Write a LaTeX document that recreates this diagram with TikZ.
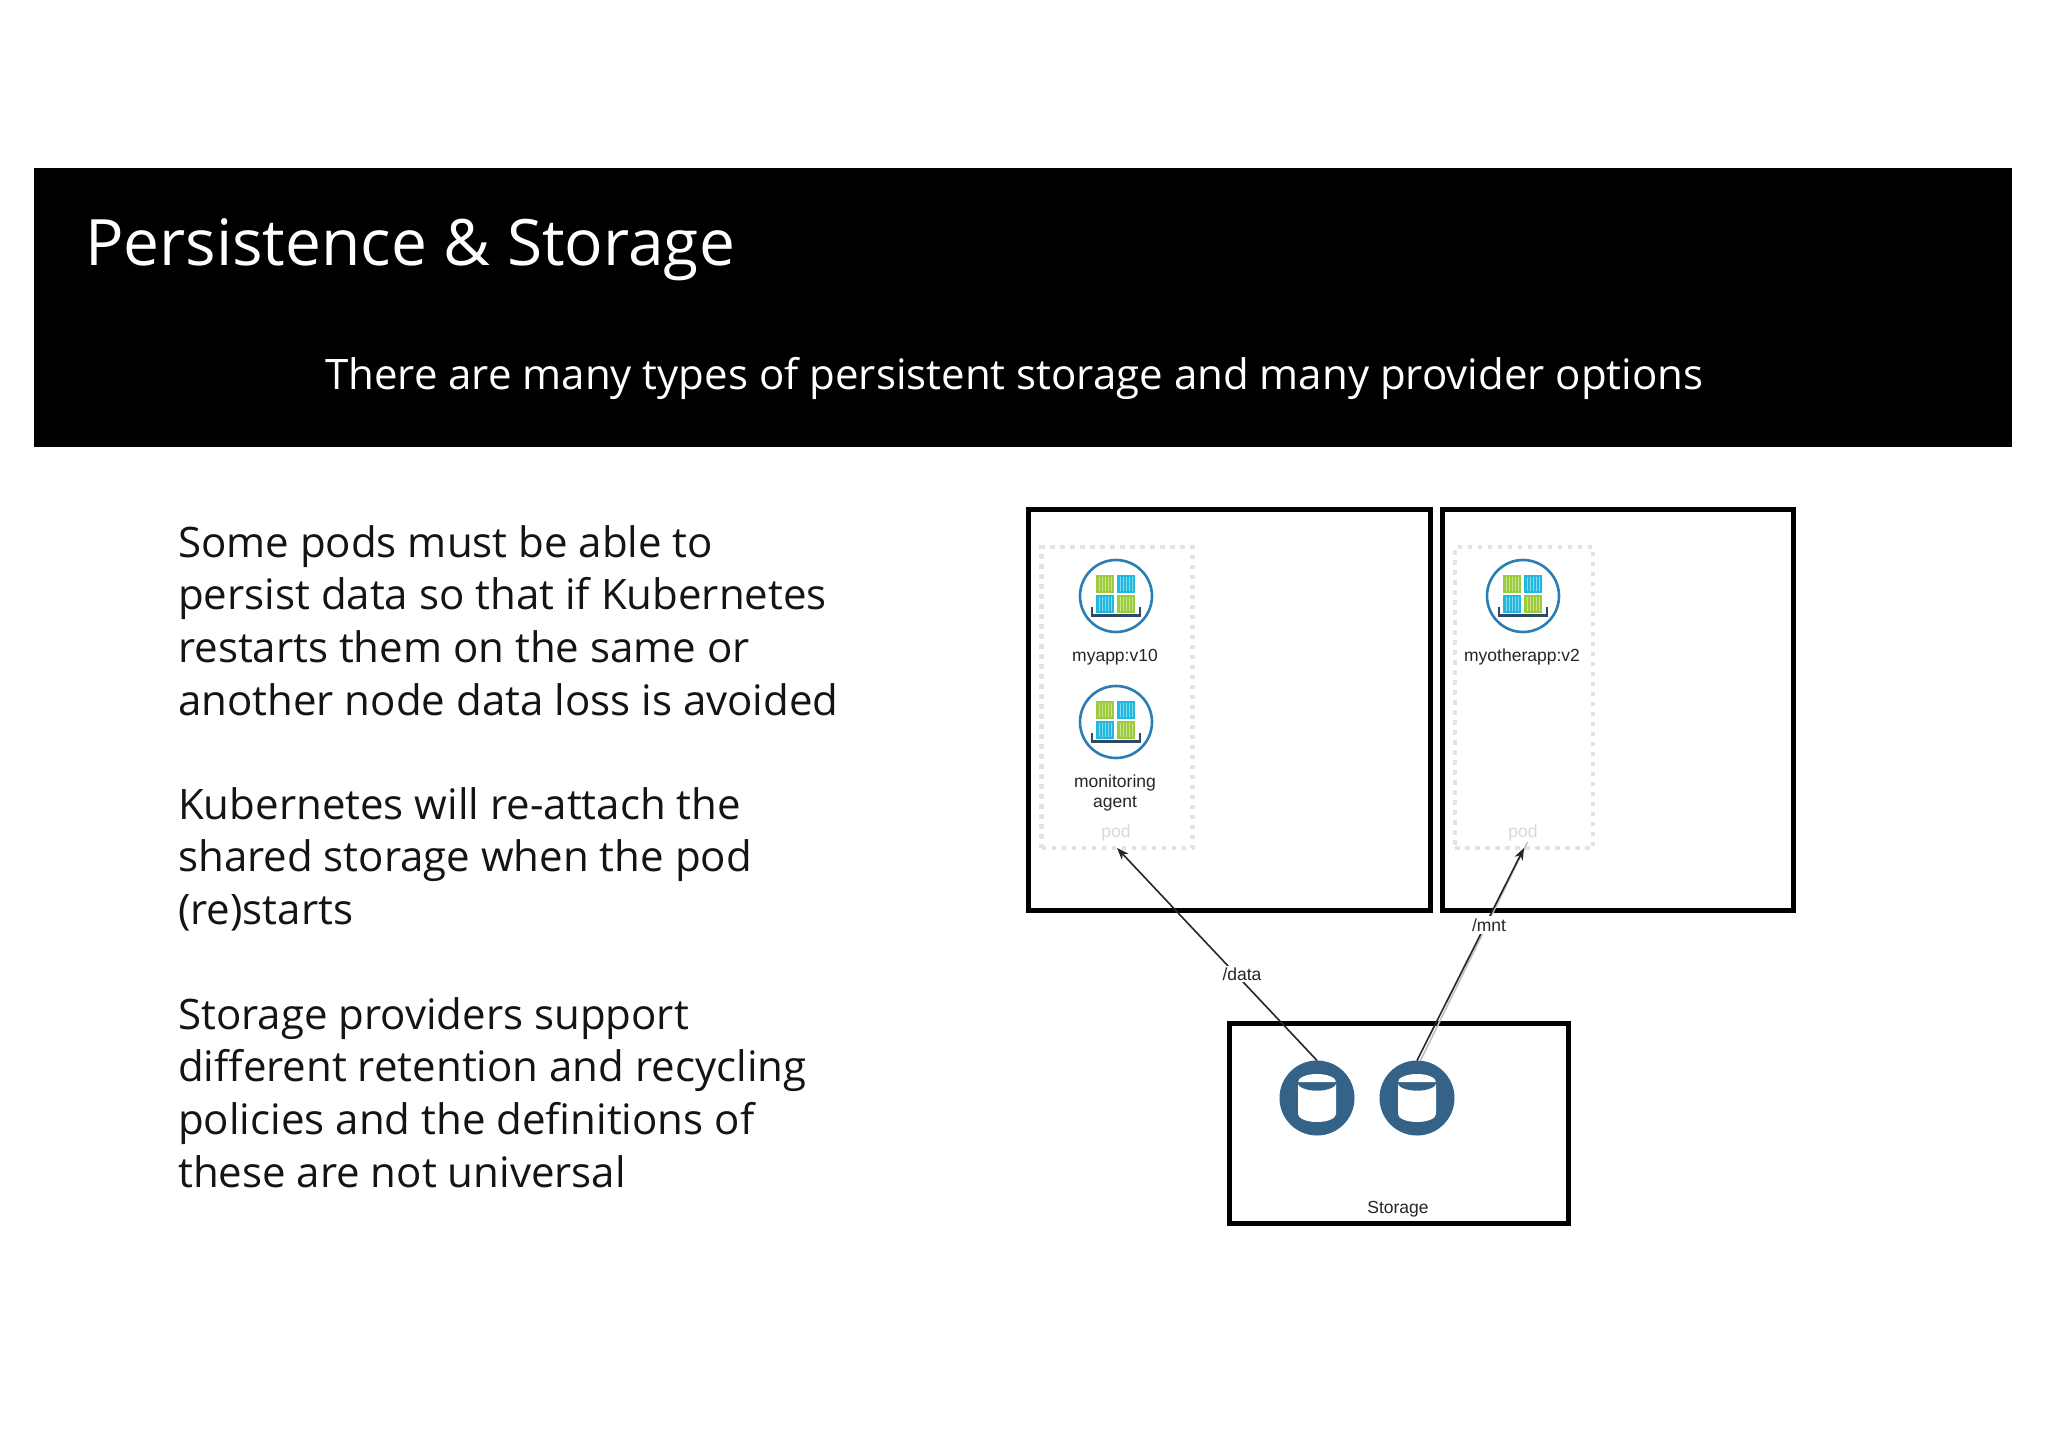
\documentclass[tikz,border=0pt]{standalone}
\usepackage{fontspec}
\setmainfont{Open Sans}
\newfontfamily\labelfont{Liberation Sans}
\usetikzlibrary{arrows.meta}
\definecolor{cgreen}{HTML}{9CCB3B}
\definecolor{cblue}{HTML}{22B8E0}
\definecolor{cnavy}{HTML}{2C4A66}
\definecolor{cring}{HTML}{2A7DB5}
\definecolor{cstore}{HTML}{356388}
\tikzset{
  hostbox/.style={draw=black,line width=5.5pt,fill=white,rectangle,inner sep=0pt,outer sep=0pt},
  podbox/.style={draw=black!11,line width=4.5pt,dash pattern=on 4.5pt off 5.5pt,rectangle,inner sep=0pt,outer sep=0pt},
  ring/.style={circle,draw=cring,line width=2.6pt,fill=white,minimum size=72pt,inner sep=0pt,outer sep=0pt},
  storedisc/.style={circle,fill=cstore,minimum size=75pt,inner sep=0pt,outer sep=0pt},
  small/.style={font=\labelfont\fontsize{17.5}{20.5}\selectfont,text=black!85,align=center,inner sep=0pt},
  podtext/.style={font=\labelfont\fontsize{17.5}{20.5}\selectfont,text=black!15,inner sep=0pt},
  bodytext/.style={font=\fontsize{42}{52.7}\selectfont,text=black!92,align=left,anchor=north west,inner sep=0pt},
  link/.style={line width=1.6pt,draw=black!85,-{Stealth[length=12pt,width=9pt]}},
  crate/.pic={
    \fill[#1] (0,0) rectangle (18,18);
    \foreach \k in {3,6,9,12,15} \draw[white,opacity=.45,line width=.9pt] (\k,2) -- (\k,16);
  },
  podicon/.pic={
    \pic at (-20,-21) {crate=cgreen};
    \pic at (1,-21) {crate=cblue};
    \pic at (-20,-1) {crate=cblue};
    \pic at (1,-1) {crate=cgreen};
    \draw[cnavy,line width=2.4pt] (-24,11) -- (-24,19.5) -- (24,19.5) -- (24,11);
  },
  cylinder icon/.pic={
    \fill[white] (-19,-16) -- (-19,16) arc[start angle=180,end angle=360,x radius=19,y radius=-8] -- (19,-16) arc[start angle=0,end angle=360,x radius=19,y radius=8] -- cycle;
    \draw[cstore,line width=1.4pt] (-19,-16) arc[start angle=180,end angle=360,x radius=19,y radius=-8];
  }
}
\begin{document}
\begin{tikzpicture}[x=1pt,y=-1pt]
\useasboundingbox (0,0) rectangle (2048,1448);
\fill[white] (0,0) rectangle (2048,1448);
\node[fill=black,minimum width=1978pt,minimum height=279.5pt,inner sep=0pt,outer sep=0pt,anchor=north west] (banner) at (34,167.5) {};
\node[anchor=base west,text=white,inner sep=0pt,font=\fontsize{64}{70}\selectfont] (title) at (85,265) {Persistence \& Storage};
\node[anchor=base west,text=white,inner sep=0pt,font=\fontsize{42}{50}\selectfont] (subtitle) at (325,389) {There are many types of persistent storage and many provider options};

\node[bodytext] (para1) at (178,525) {Some pods must be able to\\persist data so that if Kubernetes\\restarts them on the same or\\another node data loss is avoided};
\node[bodytext] (para2) at (178,787) {Kubernetes will re-attach the\\shared storage when the pod\\(re)starts};
\node[bodytext] (para3) at (178,997) {Storage providers support\\different retention and recycling\\policies and the definitions of\\these are not universal};

\node[hostbox,minimum width=402pt,minimum height=401pt,anchor=north west] (host1) at (1028.5,509.5) {};
\node[hostbox,minimum width=351pt,minimum height=401pt,anchor=north west] (host2) at (1442.5,509.5) {};
\node[hostbox,minimum width=339pt,minimum height=200pt,anchor=north west] (storagebox) at (1229.5,1023.5) {};

\node[podbox,minimum width=151pt,minimum height=301pt,anchor=north west] (pod1) at (1041.5,547) {};
\node[podbox,minimum width=138pt,minimum height=301pt,anchor=north west] (pod2) at (1455,547) {};

\node[ring] (icon1) at (1116,596) {};
\pic at (1116,596) {podicon};
\node[ring] (icon2) at (1116,722) {};
\pic at (1116,722) {podicon};
\node[ring] (icon3) at (1523,596) {};
\pic at (1523,596) {podicon};

\node[small] (app1) at (1115,657) {myapp:v10};
\node[small] (app2) at (1115,793) {monitoring\\agent};
\node[small] (app3) at (1522,657) {myotherapp:v2};
\node[podtext] (podlabel1) at (1116,833) {pod};
\node[podtext] (podlabel2) at (1523,833) {pod};

\node[storedisc] (store1) at (1317,1098) {};
\pic at (1317,1098) {cylinder icon};
\node[storedisc] (store2) at (1417,1098) {};
\pic at (1417,1098) {cylinder icon};
\node[small] (storagelabel) at (1398,1209) {Storage};

\draw[black!25,line width=1.6pt] ([xshift=3.5pt]store2.north) -- ([xshift=3.5pt,yshift=6pt]pod2.south);
\draw[link] (store1.north) -- (pod1.south);
\draw[link] (store2.north) -- (pod2.south);
\node[small,fill=white,inner sep=2pt] (datalabel) at (1242,974) {/data};
\node[small,fill=white,inner sep=3pt] (mntlabel) at (1489,925) {/mnt};
\end{tikzpicture}
\end{document}
